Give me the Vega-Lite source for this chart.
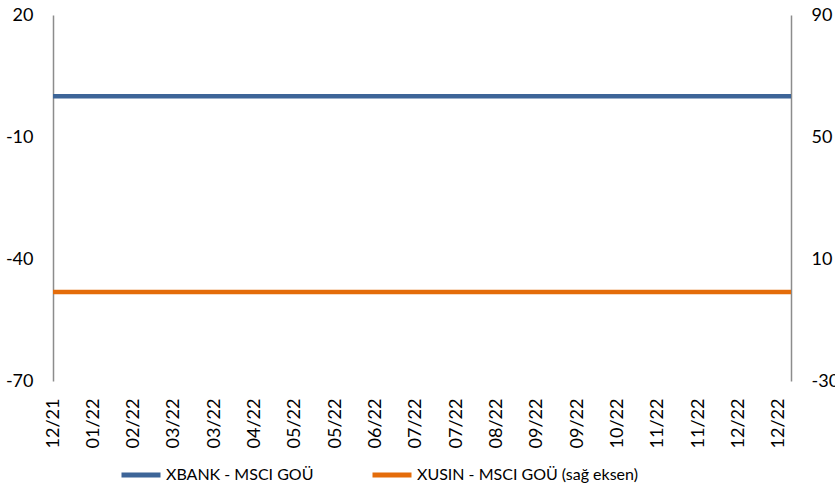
{
  "$schema": "https://vega.github.io/schema/vega-lite/v6.json",
  "width": 738,
  "height": 366,
  "autosize": {"type": "none"},
  "padding": {"left": 53, "top": 15, "right": 44, "bottom": 115},
  "background": "white",
  "config": {
    "view": {"stroke": null},
    "font": "Lato",
    "axis": {"grid": false, "ticks": false, "tickSize": 0, "labelFont": "Lato", "labelFontSize": 18, "labelColor": "#000000", "labelOverlap": false, "labelBound": false},
    "legend": {"labelFont": "Lato", "labelFontSize": 16, "labelColor": "#000000", "labelLimit": 0}
  },
  "data": {
    "values": [
      {"i": 0, "series": "XBANK - MSCI GOÜ", "v": 0},
      {"i": 1, "series": "XBANK - MSCI GOÜ", "v": 0},
      {"i": 2, "series": "XBANK - MSCI GOÜ", "v": 0},
      {"i": 3, "series": "XBANK - MSCI GOÜ", "v": 0},
      {"i": 4, "series": "XBANK - MSCI GOÜ", "v": 0},
      {"i": 5, "series": "XBANK - MSCI GOÜ", "v": 0},
      {"i": 6, "series": "XBANK - MSCI GOÜ", "v": 0},
      {"i": 7, "series": "XBANK - MSCI GOÜ", "v": 0},
      {"i": 8, "series": "XBANK - MSCI GOÜ", "v": 0},
      {"i": 9, "series": "XBANK - MSCI GOÜ", "v": 0},
      {"i": 10, "series": "XBANK - MSCI GOÜ", "v": 0},
      {"i": 11, "series": "XBANK - MSCI GOÜ", "v": 0},
      {"i": 12, "series": "XBANK - MSCI GOÜ", "v": 0},
      {"i": 13, "series": "XBANK - MSCI GOÜ", "v": 0},
      {"i": 14, "series": "XBANK - MSCI GOÜ", "v": 0},
      {"i": 15, "series": "XBANK - MSCI GOÜ", "v": 0},
      {"i": 16, "series": "XBANK - MSCI GOÜ", "v": 0},
      {"i": 17, "series": "XBANK - MSCI GOÜ", "v": 0},
      {"i": 18, "series": "XBANK - MSCI GOÜ", "v": 0},
      {"i": 18.3, "series": "XBANK - MSCI GOÜ", "v": 0},
      {"i": 0, "series": "XUSIN - MSCI GOÜ (sağ eksen)", "v": -0.8},
      {"i": 1, "series": "XUSIN - MSCI GOÜ (sağ eksen)", "v": -0.8},
      {"i": 2, "series": "XUSIN - MSCI GOÜ (sağ eksen)", "v": -0.8},
      {"i": 3, "series": "XUSIN - MSCI GOÜ (sağ eksen)", "v": -0.8},
      {"i": 4, "series": "XUSIN - MSCI GOÜ (sağ eksen)", "v": -0.8},
      {"i": 5, "series": "XUSIN - MSCI GOÜ (sağ eksen)", "v": -0.8},
      {"i": 6, "series": "XUSIN - MSCI GOÜ (sağ eksen)", "v": -0.8},
      {"i": 7, "series": "XUSIN - MSCI GOÜ (sağ eksen)", "v": -0.8},
      {"i": 8, "series": "XUSIN - MSCI GOÜ (sağ eksen)", "v": -0.8},
      {"i": 9, "series": "XUSIN - MSCI GOÜ (sağ eksen)", "v": -0.8},
      {"i": 10, "series": "XUSIN - MSCI GOÜ (sağ eksen)", "v": -0.8},
      {"i": 11, "series": "XUSIN - MSCI GOÜ (sağ eksen)", "v": -0.8},
      {"i": 12, "series": "XUSIN - MSCI GOÜ (sağ eksen)", "v": -0.8},
      {"i": 13, "series": "XUSIN - MSCI GOÜ (sağ eksen)", "v": -0.8},
      {"i": 14, "series": "XUSIN - MSCI GOÜ (sağ eksen)", "v": -0.8},
      {"i": 15, "series": "XUSIN - MSCI GOÜ (sağ eksen)", "v": -0.8},
      {"i": 16, "series": "XUSIN - MSCI GOÜ (sağ eksen)", "v": -0.8},
      {"i": 17, "series": "XUSIN - MSCI GOÜ (sağ eksen)", "v": -0.8},
      {"i": 18, "series": "XUSIN - MSCI GOÜ (sağ eksen)", "v": -0.8},
      {"i": 18.3, "series": "XUSIN - MSCI GOÜ (sağ eksen)", "v": -0.8}
    ]
  },
  "encoding": {
    "x": {
      "field": "i",
      "type": "quantitative",
      "scale": {"domain": [0, 18.3], "nice": false, "zero": false},
      "axis": {
        "title": null,
        "domain": false,
        "values": [0,1,2,3,4,5,6,7,8,9,10,11,12,13,14,15,16,17,18],
        "labelAngle": 270,
        "labelPadding": 17,
        "labelExpr": "['12/21','01/22','02/22','03/22','03/22','04/22','05/22','05/22','06/22','07/22','07/22','08/22','09/22','09/22','10/22','11/22','11/22','12/22','12/22'][round(datum.value)]"
      }
    },
    "color": {
      "field": "series",
      "type": "nominal",
      "scale": {"domain": ["XBANK - MSCI GOÜ", "XUSIN - MSCI GOÜ (sağ eksen)"], "range": ["#3D6598", "#E46C0A"]},
      "legend": {
        "title": null,
        "orient": "none",
        "direction": "horizontal",
        "legendX": 66,
        "legendY": 438,
        "symbolType": "stroke",
        "symbolSize": 1521,
        "symbolStrokeWidth": 5,
        "labelOffset": 3,
        "columnPadding": 48
      }
    }
  },
  "layer": [
    {
      "transform": [{"filter": "datum.series == 'XBANK - MSCI GOÜ'"}],
      "mark": {"type": "line", "strokeWidth": 4.5},
      "encoding": {
        "y": {
          "field": "v",
          "type": "quantitative",
          "scale": {"domain": [-70, 20], "nice": false, "zero": false},
          "axis": {"title": null, "orient": "left", "values": [20, -10, -40, -70], "labelExpr": "datum.value + ''", "domain": true, "domainColor": "#8C8C8C", "domainWidth": 1.5, "labelPadding": 20}
        }
      }
    },
    {
      "transform": [{"filter": "datum.series != 'XBANK - MSCI GOÜ'"}],
      "mark": {"type": "line", "strokeWidth": 4.5},
      "encoding": {
        "y": {
          "field": "v",
          "type": "quantitative",
          "scale": {"domain": [-30, 90], "nice": false, "zero": false},
          "axis": {"title": null, "orient": "right", "values": [90, 50, 10, -30], "labelExpr": "datum.value + ''", "domain": true, "domainColor": "#8C8C8C", "domainWidth": 1.5, "labelPadding": 20}
        }
      }
    }
  ],
  "resolve": {"scale": {"y": "independent"}}
}
